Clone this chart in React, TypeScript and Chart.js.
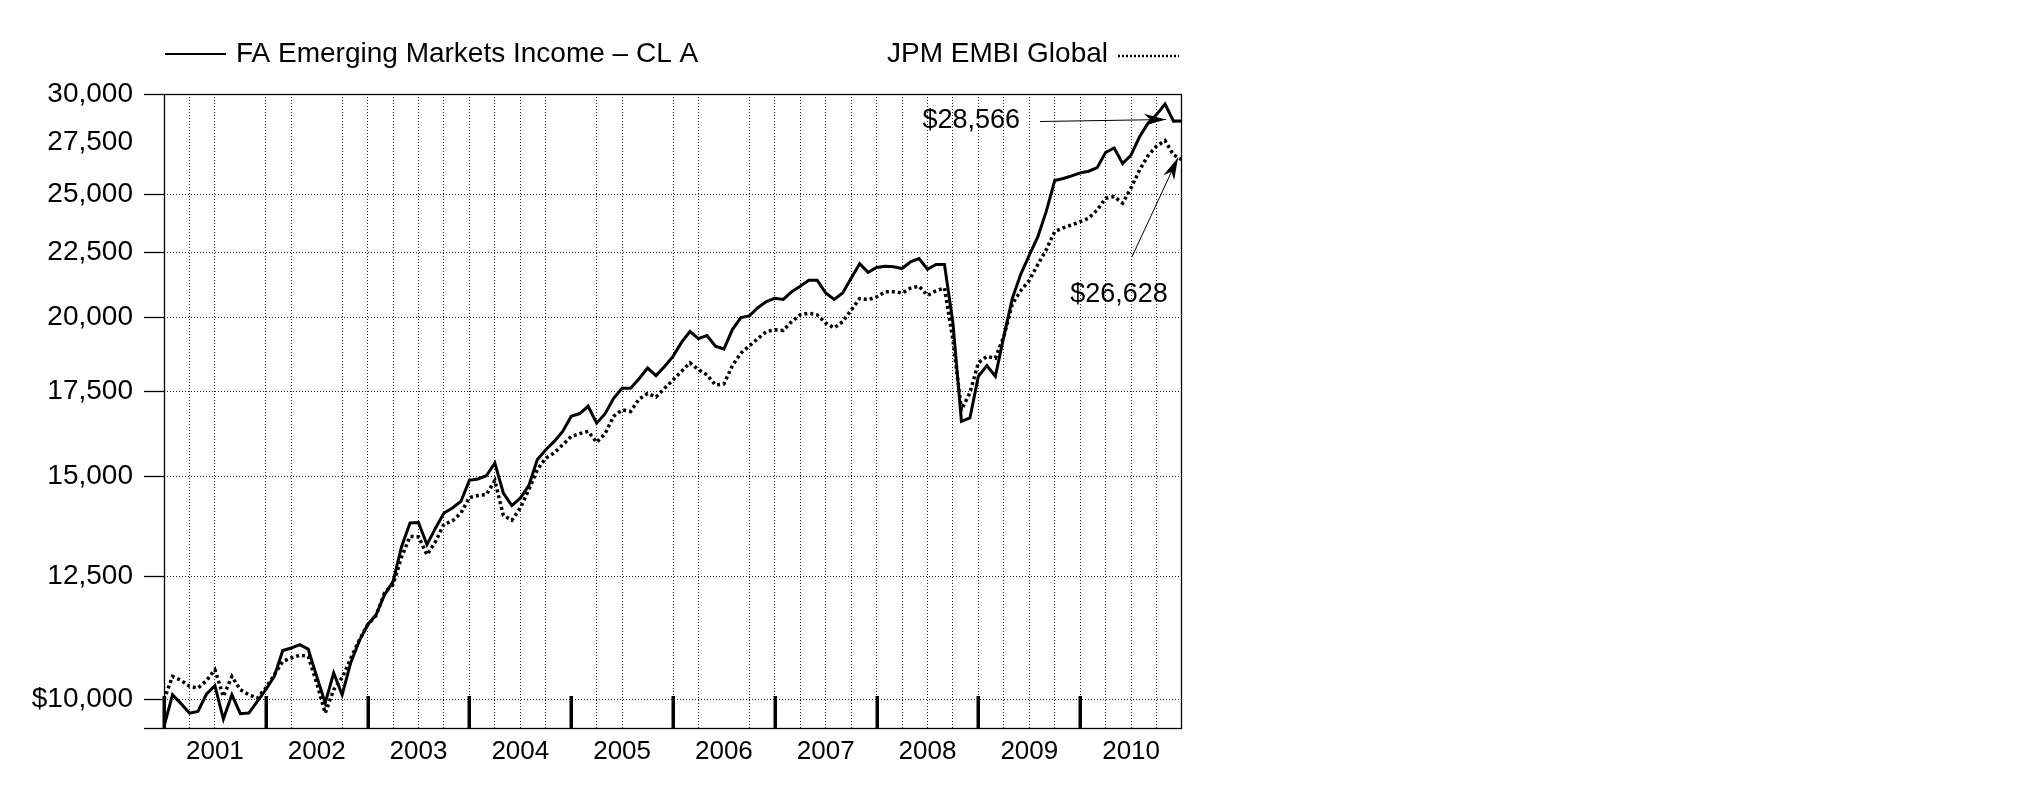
import React, { useEffect, useRef } from 'react';
import { Chart, registerables } from 'chart.js';

Chart.register(...registerables);

const FONT = '"Liberation Sans", Arial, Helvetica, sans-serif';

const years = ['2001', '2002', '2003', '2004', '2005', '2006', '2007', '2008', '2009', '2010'];
const fundLabel = 'FA Emerging Markets Income \u2013 CL A';
const indexLabel = 'JPM EMBI Global';

// Month-end values, Dec 2000 .. Dec 2010
const fundValues = [
  9525, 10090, 9930, 9760, 9790, 10100, 10257, 9656, 10090, 9750, 9760, 9970,
  10183, 10432, 10935, 10983, 11049, 10962, 10432, 9940, 10496, 10090, 10688, 11115,
  11458, 11667, 12098, 12390, 13200, 13777, 13790, 13247, 13650, 14030, 14159, 14334,
  14886, 14925, 15012, 15362, 14549, 14220, 14413, 14743, 15455, 15737, 15975, 16269,
  16721, 16804, 17028, 16514, 16800, 17275, 17590, 17590, 17900, 18250, 18000, 18300,
  18640, 19118, 19500, 19250, 19355, 18990, 18890, 19570, 20000, 20060, 20360, 20590,
  20710, 20670, 20960, 21170, 21400, 21400, 20910, 20670, 20910, 21480, 22050, 21710,
  21900, 21950, 21930, 21860, 22130, 22260, 21830, 22020, 22020, 19800, 16568, 16669,
  17980, 18330, 17980, 19330, 20710, 21640, 22400, 23150, 24247, 25645, 25740, 25860,
  26000, 26080, 26250, 26990, 27200, 26450, 26860, 27760, 28450, 28900, 29460, 28560,
  28566,
];

const indexValues = [
  10000, 10432, 10360, 10244, 10214, 10350, 10560, 10060, 10432, 10183, 10090, 10030,
  10214, 10464, 10719, 10786, 10840, 10820, 10307, 9760, 10183, 10407, 10772, 11135,
  11452, 11650, 12140, 12330, 12950, 13445, 13440, 13007, 13321, 13750, 13830, 14030,
  14430, 14481, 14508, 14880, 13970, 13848, 14159, 14637, 15177, 15500, 15642, 15880,
  16122, 16205, 16269, 15950, 16205, 16721, 16918, 16868, 17250, 17430, 17315, 17590,
  17860, 18140, 18425, 18195, 18030, 17700, 17730, 18330, 18750, 19000, 19250, 19500,
  19560, 19540, 19860, 20100, 20160, 20100, 19800, 19630, 19850, 20270, 20700, 20660,
  20760, 20960, 20960, 20910, 21100, 21170, 20820, 20990, 21100, 19200, 16918, 17450,
  18425, 18640, 18580, 19330, 20500, 21000, 21400, 22020, 22620, 23380, 23530, 23660,
  23800, 23950, 24310, 24830, 24910, 24610, 25300, 26140, 26830, 27290, 27570, 26860,
  26628,
];

const yTickValues = [9500, 10000, 12500, 15000, 17500, 20000, 22500, 25000, 27500, 30000];
const yNoGrid = [9500, 27500, 30000];
const yNoTickMark = [27500];
const hiddenGridMonths = [0, 9, 18, 48, 57, 66, 120];
const endLabels = ['$28,566', '$26,628'];

const fmt = (v: number) => v.toLocaleString('en-US');

function drawArrow(ctx: CanvasRenderingContext2D, x1: number, y1: number, x2: number, y2: number, len: number, half: number) {
  ctx.beginPath();
  ctx.moveTo(x1, y1);
  ctx.lineTo(x2, y2);
  ctx.lineWidth = 1;
  ctx.strokeStyle = '#000';
  ctx.stroke();
  const a = Math.atan2(y2 - y1, x2 - x1);
  const c = Math.cos(a), s = Math.sin(a);
  const bx = x2 - len * c, by = y2 - len * s;
  const mx = x2 - len * 0.7 * c, my = y2 - len * 0.7 * s;
  ctx.beginPath();
  ctx.moveTo(x2, y2);
  ctx.lineTo(bx + half * s, by - half * c);
  ctx.lineTo(mx, my);
  ctx.lineTo(bx - half * s, by + half * c);
  ctx.closePath();
  ctx.fillStyle = '#000';
  ctx.fill();
}

const overlayPlugin = {
  id: 'overlay',
  afterDatasetsDraw(chart: any) {
    const { ctx, chartArea } = chart;
    const xs = chart.scales.x;
    const ys = chart.scales.y;
    ctx.save();
    // frame
    ctx.strokeStyle = '#000';
    ctx.lineWidth = 1.3;
    ctx.strokeRect(Math.round(chartArea.left) + 0.5, Math.round(chartArea.top) + 0.5,
      Math.round(chartArea.right - chartArea.left) - 1, Math.round(chartArea.bottom - chartArea.top));
    // year tick marks
    ctx.fillStyle = '#000';
    for (let i = 0; i < years.length; i++) {
      const x = xs.getPixelForValue(i * 12);
      ctx.fillRect(Math.round(x) - 1.5, chartArea.bottom - 32, 3.5, 32);
    }
    // end-value annotations
    ctx.font = `27px ${FONT}`;
    ctx.fillStyle = '#000';
    const last = fundValues.length - 1;
    const p1x = xs.getPixelForValue(last), p1y = ys.getPixelForValue(fundValues[last]);
    ctx.textAlign = 'right';
    ctx.textBaseline = 'middle';
    ctx.fillText(endLabels[0], p1x - 162, p1y);
    drawArrow(ctx, p1x - 142, p1y + 0.5, p1x - 16, p1y - 1.5, 22, 6);
    const p2x = xs.getPixelForValue(last), p2y = ys.getPixelForValue(indexValues[last]);
    ctx.textAlign = 'center';
    ctx.fillStyle = '#000';
    ctx.fillText(endLabels[1], p2x - 63, p2y + 135);
    drawArrow(ctx, p2x - 50, p2y + 97, p2x - 4, p2y - 2, 22, 6);
    ctx.restore();
  },
  afterDraw(chart: any) {
    const { ctx, chartArea } = chart;
    const ds = chart.data.datasets;
    const y = chartArea.top - 40;
    ctx.save();
    ctx.font = `28px ${FONT}`;
    ctx.fillStyle = '#000';
    ctx.textBaseline = 'middle';
    // left item
    ctx.strokeStyle = '#000';
    ctx.lineWidth = 2;
    ctx.beginPath();
    ctx.moveTo(chartArea.left + 1, y);
    ctx.lineTo(chartArea.left + 62, y);
    ctx.stroke();
    ctx.textAlign = 'left';
    ctx.fillText(ds[0].label, chartArea.left + 72, y);
    // right item
    ctx.textAlign = 'right';
    ctx.fillText(ds[1].label, chartArea.right - 74, y);
    ctx.lineWidth = 2.5;
    ctx.setLineDash([2, 2]);
    ctx.beginPath();
    ctx.moveTo(chartArea.right - 64, y + 2);
    ctx.lineTo(chartArea.right - 3, y + 2);
    ctx.stroke();
    ctx.restore();
  },
};

export default function App() {
  const ref = useRef<HTMLCanvasElement | null>(null);
  useEffect(() => {
    document.body.style.margin = '0';
    document.body.style.overflow = 'hidden';
    const canvas = ref.current;
    if (!canvas) return;
    const months = fundValues.map((_, i) => i);
    const chart = new Chart(canvas, {
      type: 'line',
      data: {
        datasets: [
          {
            label: fundLabel,
            data: months.map((m) => ({ x: m, y: fundValues[m] })),
            borderColor: '#000',
            borderWidth: 3,
            pointRadius: 0,
            tension: 0,
            fill: false,
          },
          {
            label: indexLabel,
            data: months.map((m) => ({ x: m, y: indexValues[m] })),
            borderColor: '#000',
            borderWidth: 3.5,
            borderDash: [3, 3],
            pointRadius: 0,
            tension: 0,
            fill: false,
          },
        ],
      },
      options: {
        responsive: false,
        animation: false,
        devicePixelRatio: 1,
        layout: { padding: { top: 94, right: 843, bottom: 0, left: 0 } },
        plugins: { legend: { display: false }, tooltip: { enabled: false } },
        scales: {
          x: {
            type: 'linear',
            min: 0,
            max: 120,
            offset: false,
            afterBuildTicks: (scale: any) => {
              const t = [];
              for (let m = 0; m <= 120; m += 3) t.push({ value: m });
              scale.ticks = t;
            },
            afterFit: (scale: any) => { scale.height = 78; },
            grid: {
              drawTicks: false,
              lineWidth: 1,
              color: (c: any) => (hiddenGridMonths.includes(c.tick?.value) ? 'rgba(0,0,0,0)' : '#222'),
            },
            border: { display: false, dash: [1, 2] },
            ticks: {
              autoSkip: false,
              maxRotation: 0,
              padding: 8,
              color: '#000',
              font: { family: FONT, size: 26 },
              callback: (v: any) => {
                const n = Number(v);
                return n % 12 === 6 ? years[(n - 6) / 12] : '';
              },
            },
          },
          y: {
            type: 'logarithmic',
            min: 9500,
            max: 30000,
            afterBuildTicks: (scale: any) => {
              scale.ticks = yTickValues.map((v) => ({ value: v }));
            },
            afterFit: (scale: any) => { scale.width = 164; },
            grid: {
              drawTicks: true,
              tickLength: 20,
              lineWidth: 1,
              tickWidth: 1.3,
              color: (c: any) => (yNoGrid.includes(c.tick?.value) ? 'rgba(0,0,0,0)' : '#222'),
              tickColor: (c: any) => (yNoTickMark.includes(c.tick?.value) ? 'rgba(0,0,0,0)' : '#000'),
              tickBorderDash: [],
            },
            border: { display: false, dash: [1, 2] },
            ticks: {
              padding: 11,
              color: '#000',
              font: { family: FONT, size: 28 },
              callback: (v: any) => {
                const n = Number(v);
                if (n === 9500) return '';
                if (n === 10000) return '$' + fmt(n);
                return fmt(n);
              },
            },
          },
        },
      },
      plugins: [overlayPlugin],
    } as any);
    return () => chart.destroy();
  }, []);
  return <canvas ref={ref} width={2025} height={806} style={{ display: 'block', width: 2025, height: 806 }} />;
}
